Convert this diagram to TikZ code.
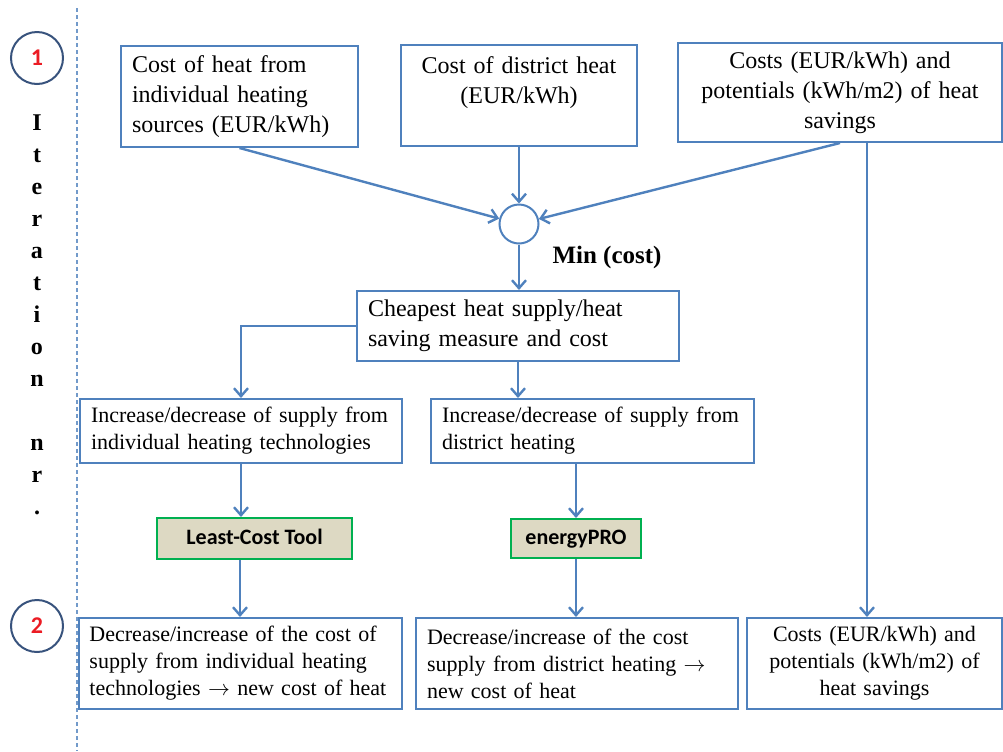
\documentclass[tikz,border=0pt]{standalone}
\usepackage{fontspec}
\setmainfont{Liberation Serif}
\newfontfamily\toolfont{Carlito}
\usetikzlibrary{arrows.meta,positioning}
\definecolor{boxblue}{RGB}{79,129,189}
\definecolor{ringblue}{RGB}{56,83,125}
\definecolor{toolfill}{RGB}{221,217,195}
\definecolor{toolgreen}{RGB}{0,176,80}
\definecolor{numred}{RGB}{235,28,36}
\tikzset{
  infobox/.style={draw=boxblue, line width=1pt, inner xsep=5.5pt, inner ysep=0pt, fill=white},
  topfont/.style={font=\fontsize{12}{15}\selectfont},
  lowfont/.style={font=\fontsize{11}{13.5}\selectfont},
  toolbox/.style={draw=toolgreen, fill=toolfill, line width=1pt, inner sep=0pt,
    text height=8pt, text depth=2.5pt, font=\toolfont\bfseries\fontsize{11}{13}\selectfont},
  ring/.style={circle, draw=ringblue, line width=1pt, minimum size=26pt, inner sep=0pt,
    font=\toolfont\bfseries\fontsize{12}{14}\selectfont, text=numred},
  joint/.style={circle, draw=boxblue, line width=1pt, fill=white, minimum size=19.5pt, inner sep=0pt},
  flow/.style={draw=boxblue, line width=1.2pt, -{Straight Barb[length=4pt,width=7pt]}},
  sepline/.style={draw=boxblue!80, line width=0.6pt, dash pattern=on 2pt off 1.5pt}
}

\begin{document}
\begin{tikzpicture}[x=0.5pt, y=-0.5pt]
  \useasboundingbox (0,0) rectangle (1003,751);

  % iteration column
  \draw[sepline] (77,8) coordinate (sepTop) -- (77,751) coordinate (sepBot);
  \node[ring] (it1) at (37,58) {1};
  \node[ring] (it2) at (37,626) {2};
  \foreach \ch [count=\i] in {I,t,e,r,a,t,i,o,n,{},n,r,.}
    \node[anchor=base, inner sep=0pt, font=\bfseries\fontsize{12}{14}\selectfont] (lt\i) at (37,130+32*\i-32) {\ch};

  % inputs
  \node[infobox, topfont, text width=107.5pt, minimum height=50.5pt, align=left] (heatA) at (239.5,96.5)
    {Cost of heat from\\individual heating\\sources (EUR/kWh)};
  \node[infobox, topfont, text width=107pt, minimum height=50.5pt, align=center] (heatB) at (519,95.5)
    {Cost of district heat\\(EUR/kWh)\\~};
  \node[infobox, topfont, text width=151pt, minimum height=49.5pt, align=center] (heatC) at (840,92.5)
    {Costs (EUR/kWh) and\\potentials (kWh/m2) of heat\\savings};

  \node[joint] (mn) at (519,224) {};
  \node[inner sep=0pt, font=\bfseries\fontsize{12.5}{14}\selectfont] (mnlabel) at (607,257) {Min (cost)};

  \node[infobox, topfont, text width=150pt, minimum height=35pt, align=left] (cheap) at (518,326)
    {Cheapest heat supply/heat\\saving measure and cost};

  % level 2
  \node[infobox, lowfont, text width=150pt, minimum height=32pt, align=left] (incA) at (241,431)
    {Increase/decrease of supply from\\individual heating technologies};
  \node[infobox, lowfont, text width=150.5pt, minimum height=32pt, align=left] (incB) at (592.5,431)
    {Increase/decrease of supply from\\district heating};

  \node[toolbox, minimum width=97.5pt, minimum height=20.5pt] (lct) at (254.5,538.5) {Least-Cost Tool};
  \node[toolbox, minimum width=65pt, minimum height=19.5pt] (epro) at (576,538.5) {energyPRO};

  % results
  \node[infobox, lowfont, text width=150.5pt, minimum height=45.5pt, align=left] (decA) at (240,663.5)
    {Decrease/increase of the cost of\\supply from individual heating\\technologies $\rightarrow$ new cost of heat};
  \node[infobox, lowfont, text width=150pt, minimum height=45.5pt, align=left] (decB) at (577,663.5)
    {Decrease/increase of the cost\\supply from district heating $\rightarrow$\\new cost of heat};
  \node[infobox, lowfont, text width=116.5pt, minimum height=45.5pt, align=center] (sav) at (874.5,663.5)
    {Costs (EUR/kWh) and\\potentials (kWh/m2) of\\heat savings};

  % connectors
  \draw[flow] (heatA.south) -- (mn);
  \draw[flow] (heatB.south) -- (mn);
  \draw[flow] (heatC.south) -- (mn);
  \draw[flow] ([xshift=13.5pt]heatC.south) -- ([xshift=13.5pt]heatC.south |- sav.north);
  \draw[flow] (mn) -- (mn |- cheap.north);
  \draw[flow] (cheap.west) -| (incA.north);
  \draw[flow] (cheap.south) -- (cheap.south |- incB.north);
  \draw[flow] (incA.south) -- (incA.south |- lct.north);
  \draw[flow] (decA.north |- lct.south) -- (decA.north);
  \draw[flow] (epro.north |- incB.south) -- (epro.north);
  \draw[flow] (epro.south) -- (epro.south |- decB.north);
\end{tikzpicture}
\end{document}
